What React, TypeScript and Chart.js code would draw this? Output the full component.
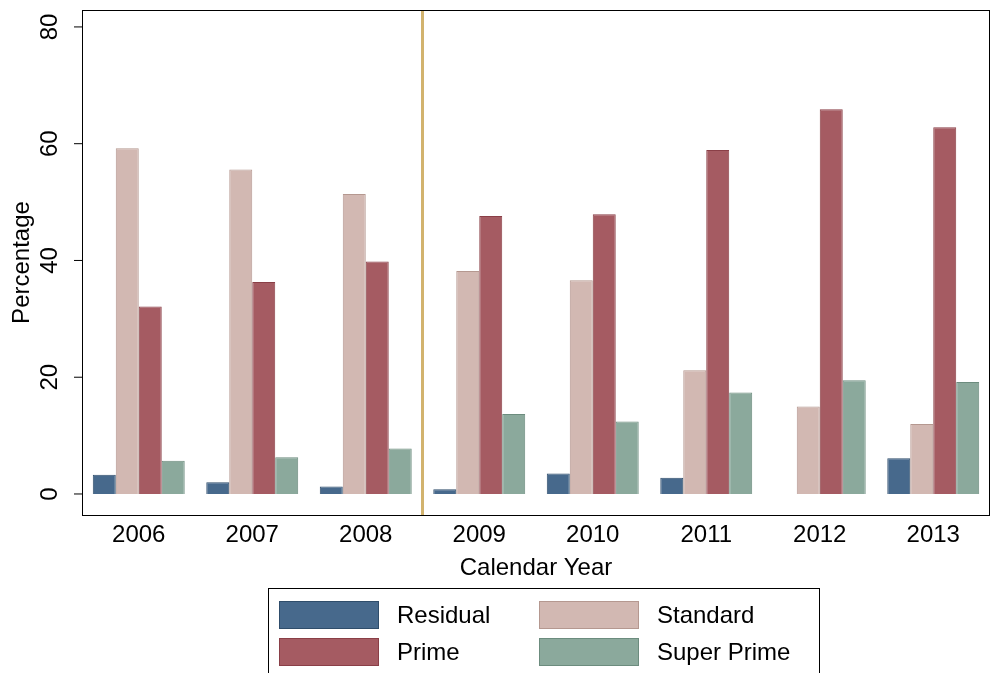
import React, { useEffect, useRef } from 'react';
import { Chart, registerables } from 'chart.js';

Chart.register(...registerables);

const years = ['2006', '2007', '2008', '2009', '2010', '2011', '2012', '2013'];
const residual = [3.3, 2.0, 1.3, 0.8, 3.5, 2.8, 0, 6.1];
const standard = [59.2, 55.6, 51.4, 38.2, 36.6, 21.2, 15.0, 12.0];
const prime = [32.1, 36.3, 39.8, 47.6, 47.9, 58.9, 65.9, 62.8];
const superPrime = [5.7, 6.3, 7.8, 13.7, 12.4, 17.4, 19.5, 19.2];
const yTicks = [0, 20, 40, 60, 80];

const colors = {
  residual: ['#47698c', '#2f4d6b'],
  standard: ['#d2b8b2', '#b59890'],
  prime: ['#a55b62', '#8a3f47'],
  superPrime: ['#8ba99c', '#6c8c7e'],
};

const FONT = 'Liberation Sans, Arial, sans-serif';

const framePlugin = {
  id: 'frame',
  afterDraw(chart: any) {
    const { ctx, chartArea: a, scales } = chart;
    ctx.save();
    // vertical separator between 2008 and 2009
    const x = (scales.x.getPixelForValue(2) + scales.x.getPixelForValue(3)) / 2;
    ctx.strokeStyle = '#d2b36e';
    ctx.lineWidth = 3;
    ctx.beginPath();
    ctx.moveTo(x, a.top);
    ctx.lineTo(x, a.bottom);
    ctx.stroke();
    // frame
    ctx.strokeStyle = '#000';
    ctx.lineWidth = 1;
    ctx.strokeRect(a.left + 0.5, a.top + 0.5, a.right - a.left - 1, a.bottom - a.top);
    ctx.fillStyle = '#000';
    ctx.font = `24px ${FONT}`;
    ctx.textAlign = 'center';
    ctx.textBaseline = 'middle';
    // x title
    ctx.fillText('Calendar Year', (a.left + a.right) / 2, 568);
    // rotated y tick labels
    yTicks.forEach((t) => {
      const y = scales.y.getPixelForValue(t);
      ctx.save();
      ctx.translate(50, y);
      ctx.rotate(-Math.PI / 2);
      ctx.fillText(String(t), 0, 0);
      ctx.restore();
      ctx.beginPath();
      ctx.moveTo(a.left - 8, y);
      ctx.lineTo(a.left, y);
      ctx.stroke();
    });
    ctx.save();
    ctx.translate(22, (a.top + a.bottom) / 2);
    ctx.rotate(-Math.PI / 2);
    ctx.fillText('Percentage', 0, 0);
    ctx.restore();
    ctx.restore();
  },
};

const App: React.FC = () => {
  const ref = useRef<HTMLCanvasElement | null>(null);

  useEffect(() => {
    if (!ref.current) return;
    const ds = (label: string, data: number[], c: string[]) => ({
      label,
      data,
      backgroundColor: c[0],
      borderColor: c[1],
      borderWidth: 1,
      categoryPercentage: 0.81,
      barPercentage: 1,
    });
    const chart = new Chart(ref.current, {
      type: 'bar',
      data: {
        labels: years,
        datasets: [
          ds('Residual', residual, colors.residual),
          ds('Standard', standard, colors.standard),
          ds('Prime', prime, colors.prime),
          ds('Super Prime', superPrime, colors.superPrime),
        ],
      },
      options: {
        animation: false,
        responsive: false,
        layout: { padding: { top: 10, right: 2 } },
        plugins: { legend: { display: false }, tooltip: { enabled: false } },
        scales: {
          x: {
            grid: { display: false, tickLength: 0 },
            border: { display: false },
            ticks: { color: '#000', font: { size: 24, family: FONT }, padding: 6 },
            afterFit: (s: any) => { s.height = 158; },
          },
          y: {
            min: -3.6,
            max: 82.9,
            grid: { display: false },
            border: { display: false },
            ticks: { display: false },
            afterFit: (s: any) => { s.width = 82; },
          },
        },
      },
      plugins: [framePlugin],
    });
    return () => chart.destroy();
  }, []);

  const item = (label: string, c: string[]) => (
    <div style={{ display: 'flex', alignItems: 'center', height: 37 }}>
      <div style={{ width: 98, height: 26, background: c[0], border: `1px solid ${c[1]}`, marginRight: 18, flex: 'none' }} />
      <span style={{ lineHeight: '26px' }}>{label}</span>
    </div>
  );

  return (
    <div style={{ position: 'fixed', left: 0, top: 0, width: 992, height: 673, background: '#fff', overflow: 'hidden' }}>
      <canvas ref={ref} width={992} height={673} />
      <div
        style={{
          position: 'absolute', left: 268, top: 588, width: 552, height: 100, border: '1px solid #000',
          boxSizing: 'border-box', display: 'grid', gridTemplateColumns: '260px 280px', gridAutoRows: '37px',
          padding: '7px 0 0 10px', alignContent: 'start',
          fontFamily: FONT, fontSize: 24, color: '#000',
        }}
      >
        {item('Residual', colors.residual)}
        {item('Standard', colors.standard)}
        {item('Prime', colors.prime)}
        {item('Super Prime', colors.superPrime)}
      </div>
    </div>
  );
};

export default App;
